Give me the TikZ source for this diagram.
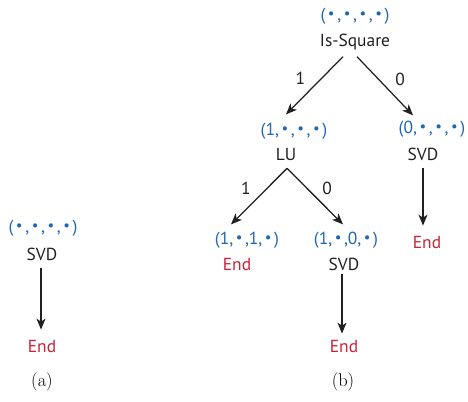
\documentclass[tikz,border=0pt]{standalone}
\usepackage{fontspec}
\setsansfont{PT Sans}
\usetikzlibrary{arrows.meta,calc}
\definecolor{tupblue}{RGB}{28,102,180}
\definecolor{endred}{RGB}{200,35,55}
\definecolor{ink}{RGB}{35,31,32}
\newcommand\bul{\makebox[0.68em]{\raisebox{0.2ex}{\scalebox{0.85}{•}}}}
\tikzset{
  lbl/.style={font=\sffamily\fontsize{17.5}{19}\selectfont, inner sep=0pt, anchor=base, text=ink},
  tup/.style={lbl, text=tupblue},
  endn/.style={lbl, text=endred},
  subcap/.style={font=\fontsize{18.5}{20}\selectfont, inner sep=0pt, anchor=base},
  arr/.style={line width=1.25pt, ink, -{Stealth[length=11pt,width=9pt,inset=3pt]}},
  elbl/.style={lbl, anchor=center}
}
\begin{document}
\begin{tikzpicture}[x=1bp,y=-1bp]
\useasboundingbox (0,0) rectangle (468,401);
% (a)
\node[tup] (tA) at (43,232) {(\bul,\bul,\bul,\bul)};
\node[lbl] (sA) at (42,260) {SVD};
\node[endn] (eA) at (42,352) {End};
\node[subcap] (cA) at (42,386) {(a)};
\draw[arr] ($(sA.south)+(-1,8)$) -- ($(eA.north)+(-1,-10)$);
% (b) root
\node[tup] (r0) at (355,20) {(\bul,\bul,\bul,\bul)};
\node[lbl] (isq) at (355,46) {Is-Square};
% level 2
\node[tup] (t1) at (294,135) {(1,\bul,\bul,\bul)};
\node[lbl] (lu) at (286,160) {LU};
\node[tup] (t0) at (432,133) {(0,\bul,\bul,\bul)};
\node[lbl] (s0) at (423,160) {SVD};
\node[endn] (e0) at (427,248) {End};
% level 3
\node[tup] (t11) at (247,244) {(1,\bul,1,\bul)};
\node[endn] (e11) at (237,270) {End};
\node[tup] (t10) at (346,244) {(1,\bul,0,\bul)};
\node[lbl] (s10) at (344,270) {SVD};
\node[endn] (e10) at (344,352) {End};
\node[subcap] (cB) at (343,386) {(b)};
% arrows
\draw[arr] ($(isq.south)+(-12,7)$) -- ($(t1.north)+(-8,-8)$) node[elbl, pos=0.38, xshift=-21pt] (l1) {1};
\draw[arr] ($(isq.south)+(2,7)$) -- ($(t0.north)+(-19,-5)$) node[elbl, pos=0.38, xshift=22pt] (l0) {0};
\draw[arr] ($(lu.south)+(1,8)$) -- ($(t11.north)+(-16,-7)$) node[elbl, pos=0.36, xshift=-21pt] (l11) {1};
\draw[arr] ($(lu.south)+(1,8)$) -- ($(t10.north)+(-3,-7)$) node[elbl, pos=0.36, xshift=20pt] (l10) {0};
\draw[arr] ($(s0.south)+(0,8)$) -- ($(e0.north)+(-4,-10)$);
\draw[arr] ($(s10.south)+(-2,4)$) -- ($(e10.north)+(-2,-6)$);
\end{tikzpicture}
\end{document}
